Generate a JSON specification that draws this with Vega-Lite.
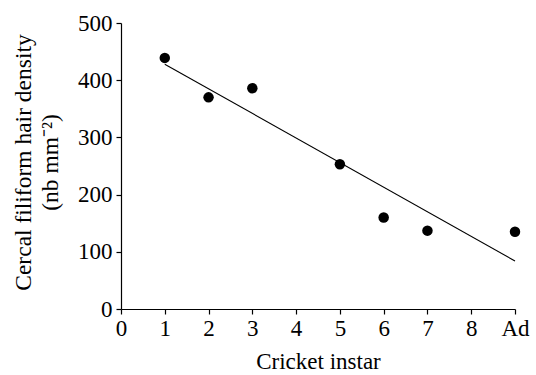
{
  "$schema": "https://vega.github.io/schema/vega-lite/v6.json",
  "width": 394,
  "height": 286,
  "autosize": "none",
  "padding": {"left": 121, "top": 23, "right": 21, "bottom": 66},
  "background": "white",
  "config": {
    "view": {"stroke": null},
    "font": "Liberation Serif",
    "axis": {
      "grid": false,
      "domainColor": "black",
      "tickColor": "black",
      "labelColor": "black",
      "titleColor": "black",
      "labelFont": "Liberation Serif",
      "titleFont": "Liberation Serif",
      "labelFontSize": 23,
      "titleFontSize": 23,
      "titleFontWeight": "normal",
      "tickSize": 5,
      "domainWidth": 1.2,
      "tickWidth": 1.2
    }
  },
  "datasets": {
    "points": [
      {"instar": 1, "density": 439},
      {"instar": 2, "density": 370},
      {"instar": 3, "density": 386},
      {"instar": 5, "density": 253},
      {"instar": 6, "density": 160},
      {"instar": 7, "density": 137},
      {"instar": 9, "density": 135}
    ],
    "fit": [
      {"instar": 1, "density": 428},
      {"instar": 9, "density": 84}
    ]
  },
  "layer": [
    {
      "data": {"name": "fit"},
      "mark": {"type": "line", "color": "black", "strokeWidth": 1.1},
      "encoding": {
        "x": {
          "field": "instar",
          "type": "quantitative",
          "scale": {"domain": [0, 9], "nice": false},
          "axis": {
            "values": [0, 1, 2, 3, 4, 5, 6, 7, 8, 9],
            "labelExpr": "datum.value == 9 ? 'Ad' : datum.label",
            "title": "Cricket instar",
            "titlePadding": 10,
            "labelPadding": 3,
            "labelFlush": false,
            "labelOverlap": false
          }
        },
        "y": {
          "field": "density",
          "type": "quantitative",
          "scale": {"domain": [0, 500], "nice": false},
          "axis": {
            "values": [0, 100, 200, 300, 400, 500],
            "title": ["Cercal filiform hair density", "(nb mm⁻²)"],
            "titleFontSize": 23.5,
            "titleLineHeight": 27,
            "titlePadding": 15,
            "titleY": 139,
            "labelPadding": 4,
            "labelFlush": false,
            "labelOverlap": false
          }
        }
      }
    },
    {
      "data": {"name": "points"},
      "mark": {"type": "point", "filled": true, "color": "black", "opacity": 1, "size": 110, "shape": "circle"},
      "encoding": {
        "x": {"field": "instar", "type": "quantitative"},
        "y": {"field": "density", "type": "quantitative"}
      }
    }
  ]
}
